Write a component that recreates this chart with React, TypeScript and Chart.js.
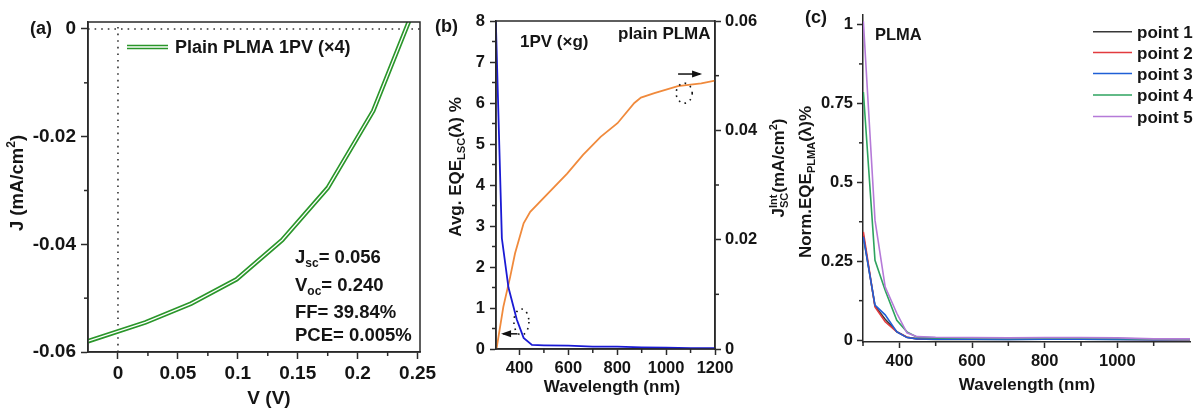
import React, { useEffect, useRef } from 'react';
import { Chart, registerables } from 'chart.js';
Chart.register(...registerables);

const FONT = '"Liberation Sans", Arial, Helvetica, sans-serif';
const INK = '#151515';
const AXIS = '#2a2a2a';

// ---------- Panel (a): J-V curve ----------
const A_V = [-0.025, 0.023, 0.061, 0.099, 0.137, 0.175, 0.213, 0.251];
const A_J = [-0.058, -0.0545, -0.051, -0.0465, -0.0392, -0.0295, -0.0152, 0.006];
const A_X_TICKS = [0, 0.05, 0.1, 0.15, 0.2, 0.25];
const A_X_MINOR = [0.025, 0.075, 0.125, 0.175, 0.225];
const A_Y_TICKS = [0, -0.02, -0.04, -0.06];
const A_Y_MINOR = [-0.01, -0.03, -0.05];
const A_LEGEND = 'Plain PLMA 1PV (×4)';
const A_STATS = [
  { main: 'J', sub: 'sc', val: '= 0.056' },
  { main: 'V', sub: 'oc', val: '= 0.240' },
  { main: 'FF', sub: '', val: '= 39.84%' },
  { main: 'PCE', sub: '', val: '= 0.005%' },
];

// ---------- Panel (b): EQE and integrated Jsc ----------
const B_WL_EQE = [300, 328, 355, 389, 417, 451, 500, 600, 700, 800, 900, 1000, 1100, 1200];
const B_EQE = [8.7, 2.7, 1.5, 0.72, 0.27, 0.1, 0.09, 0.08, 0.06, 0.06, 0.04, 0.03, 0.02, 0.02];
const B_WL_J = [306, 334, 362, 382, 417, 444, 595, 660, 732, 801, 870, 897, 952, 1048, 1144, 1200];
const B_JINT = [0, 0.0077, 0.0132, 0.0175, 0.023, 0.0251, 0.0321, 0.0355, 0.0388, 0.0413, 0.045, 0.046, 0.0468, 0.0481, 0.0486, 0.0491];
const B_X_TICKS = [400, 600, 800, 1000, 1200];
const B_X_MINOR = [500, 700, 900, 1100];
const B_Y_TICKS = [0, 1, 2, 3, 4, 5, 6, 7, 8];
const B_Y_MINOR = [0.5, 1.5, 2.5, 3.5, 4.5, 5.5, 6.5, 7.5];
const B_Y2_TICKS = [0, 0.02, 0.04, 0.06];
const B_Y2_MINOR = [0.01, 0.03, 0.05];

// ---------- Panel (c): normalised EQE at 5 points ----------
const C_WL = [301, 333, 361, 393, 421, 449, 500, 600, 700, 800, 900, 1000, 1100, 1200];
const C_P1 = [0.33, 0.108, 0.066, 0.027, 0.009, 0.004, 0.002, 0.002, 0.002, 0.003, 0.003, 0.002, 0.001, 0.001];
const C_P2 = [0.343, 0.105, 0.058, 0.026, 0.009, 0.004, 0.004, 0.004, 0.003, 0.004, 0.004, 0.003, 0.002, 0.002];
const C_P3 = [0.327, 0.111, 0.08, 0.026, 0.008, 0.004, 0.003, 0.003, 0.002, 0.003, 0.003, 0.002, 0.001, 0.002];
const C_P4 = [0.786, 0.253, 0.158, 0.063, 0.026, 0.009, 0.007, 0.006, 0.005, 0.006, 0.006, 0.005, 0.003, 0.003];
const C_P5 = [1.01, 0.38, 0.169, 0.085, 0.023, 0.011, 0.009, 0.008, 0.007, 0.008, 0.008, 0.007, 0.004, 0.004];
const C_NAMES = ['point 1', 'point 2', 'point 3', 'point 4', 'point 5'];
const C_COLORS = ['#383838', '#e23b3f', '#1f5fd6', '#2ea35f', '#b57ad8'];
const C_X_TICKS = [400, 600, 800, 1000];
const C_X_MINOR = [300, 500, 700, 900, 1100];
const C_Y_TICKS = [0, 0.25, 0.5, 0.75, 1];
const C_Y_MINOR = [0.125, 0.375, 0.625, 0.875];

// ---------- helpers ----------
type Seg = { t: string; sub?: string; sup?: string };
const f = (s: number) => `bold ${s}px ${FONT}`;

function richWidth(ctx: CanvasRenderingContext2D, segs: Seg[], size: number) {
  let w = 0;
  for (const s of segs) {
    ctx.font = f(size);
    w += ctx.measureText(s.t).width;
    ctx.font = f(size * 0.65);
    let sw = 0;
    if (s.sub) sw = Math.max(sw, ctx.measureText(s.sub).width);
    if (s.sup) sw = Math.max(sw, ctx.measureText(s.sup).width);
    w += sw;
  }
  return w;
}

function drawRich(ctx: CanvasRenderingContext2D, segs: Seg[], x: number, y: number, size: number, align: 'left' | 'center', rot = 0) {
  ctx.save();
  ctx.translate(x, y);
  if (rot) ctx.rotate(rot);
  ctx.fillStyle = INK;
  ctx.textBaseline = 'alphabetic';
  ctx.textAlign = 'left';
  const base = size * 0.36;
  const w = richWidth(ctx, segs, size);
  let cx = align === 'center' ? -w / 2 : 0;
  for (const s of segs) {
    ctx.font = f(size);
    ctx.fillText(s.t, cx, base);
    cx += ctx.measureText(s.t).width;
    ctx.font = f(size * 0.65);
    let sw = 0;
    if (s.sub) {
      ctx.fillText(s.sub, cx, base + size * 0.22);
      sw = Math.max(sw, ctx.measureText(s.sub).width);
    }
    if (s.sup) {
      ctx.fillText(s.sup, cx, base - size * 0.42);
      sw = Math.max(sw, ctx.measureText(s.sup).width);
    }
    cx += sw;
  }
  ctx.restore();
}

function drawMinor(chart: any, id: string, values: number[], len: number) {
  const s = chart.scales[id];
  const ca = chart.chartArea;
  const ctx = chart.ctx;
  ctx.save();
  ctx.strokeStyle = AXIS;
  ctx.lineWidth = 1.5;
  for (const v of values) {
    const p = s.getPixelForValue(v);
    ctx.beginPath();
    if (s.position === 'bottom') {
      ctx.moveTo(p, ca.bottom);
      ctx.lineTo(p, ca.bottom + len);
    } else if (s.position === 'left') {
      ctx.moveTo(ca.left - len, p);
      ctx.lineTo(ca.left, p);
    } else {
      ctx.moveTo(ca.right, p);
      ctx.lineTo(ca.right + len, p);
    }
    ctx.stroke();
  }
  ctx.restore();
}

function frame(chart: any) {
  const ca = chart.chartArea;
  const ctx = chart.ctx;
  ctx.save();
  ctx.strokeStyle = AXIS;
  ctx.lineWidth = 1.5;
  ctx.strokeRect(ca.left, ca.top, ca.right - ca.left, ca.bottom - ca.top);
  ctx.restore();
}

function arrow(ctx: CanvasRenderingContext2D, x1: number, y1: number, x2: number, y2: number) {
  ctx.save();
  ctx.strokeStyle = '#111';
  ctx.fillStyle = '#111';
  ctx.lineWidth = 1.5;
  ctx.beginPath();
  ctx.moveTo(x1, y1);
  ctx.lineTo(x2, y2);
  ctx.stroke();
  const dir = Math.sign(x2 - x1);
  ctx.beginPath();
  ctx.moveTo(x2 + dir * 2, y2);
  ctx.lineTo(x2 - dir * 8, y2 - 3.5);
  ctx.lineTo(x2 - dir * 8, y2 + 3.5);
  ctx.closePath();
  ctx.fill();
  ctx.restore();
}

function dottedEllipse(ctx: CanvasRenderingContext2D, cx: number, cy: number, rx: number, ry: number) {
  ctx.save();
  ctx.strokeStyle = '#111';
  ctx.lineWidth = 1.6;
  ctx.setLineDash([1.6, 4.5]);
  ctx.beginPath();
  ctx.ellipse(cx, cy, rx, ry, 0, 0, Math.PI * 2);
  ctx.stroke();
  ctx.restore();
}

const fmt = (v: number) => String(Math.round(v * 1000) / 1000);

function scale(o: { pos: string; min: number; max: number; ticks: number[]; fit: number; size: number; pad: number; tl: number; fmt?: (v: number) => string }) {
  return {
    type: 'linear',
    position: o.pos,
    min: o.min,
    max: o.max,
    afterBuildTicks: (s: any) => {
      s.ticks = o.ticks.map((v) => ({ value: v }));
    },
    afterFit: (s: any) => {
      if (o.pos === 'bottom') s.height = o.fit;
      else s.width = o.fit;
    },
    ticks: {
      autoSkip: false,
      maxRotation: 0,
      minRotation: 0,
      padding: o.pad,
      color: INK,
      font: { family: FONT, weight: 'bold', size: o.size },
      callback: (v: any) => (o.fmt || fmt)(Number(v)),
    },
    grid: { drawOnChartArea: false, drawTicks: true, tickLength: o.tl, tickWidth: 1.5, tickColor: AXIS },
    border: { display: true, color: AXIS, width: 1.5 },
    title: { display: false },
  };
}

const pts = (xs: number[], ys: number[]) => xs.map((x, i) => ({ x, y: ys[i] }));

const common = (padding: any) => ({
  animation: false,
  responsive: false,
  devicePixelRatio: 1,
  events: [],
  layout: { padding, autoPadding: false },
  plugins: { legend: { display: false }, tooltip: { enabled: false } },
});

function cfgA(): any {
  const data = pts(A_V, A_J);
  return {
    type: 'scatter',
    data: {
      datasets: [
        { data, showLine: true, borderColor: '#ffffff', borderWidth: 1.3, pointRadius: 0, order: 0 },
        { data, showLine: true, borderColor: '#2a962a', borderWidth: 4.6, pointRadius: 0, order: 1 },
        { data: [{ x: -0.025, y: 0 }, { x: 0.252, y: 0 }], showLine: true, borderColor: '#333', borderWidth: 1.6, borderDash: [1.6, 5], pointRadius: 0, order: 2 },
        { data: [{ x: 0, y: -0.06 }, { x: 0, y: 0.0013 }], showLine: true, borderColor: '#333', borderWidth: 1.6, borderDash: [1.6, 5], pointRadius: 0, order: 2 },
      ],
    },
    options: {
      ...common({ left: 0, right: 775, top: 22, bottom: 0 }),
      scales: {
        x: scale({ pos: 'bottom', min: -0.025, max: 0.252, ticks: A_X_TICKS, fit: 56, size: 19, pad: 3, tl: 7 }),
        y: scale({ pos: 'left', min: -0.06, max: 0.0013, ticks: A_Y_TICKS, fit: 88, size: 19, pad: 5, tl: 7 }),
      },
    },
    plugins: [
      {
        id: 'decorA',
        afterDraw: (chart: any) => {
          const ctx = chart.ctx;
          frame(chart);
          drawMinor(chart, 'x', A_X_MINOR, 4);
          drawMinor(chart, 'y', A_Y_MINOR, 4);
          drawRich(ctx, [{ t: '(a)' }], 30, 28, 18, 'left');
          drawRich(ctx, [{ t: 'J (mA/cm', sup: '2' }, { t: ')' }], 16, 183, 18.5, 'center', -Math.PI / 2);
          drawRich(ctx, [{ t: 'V (V)' }], 269, 397, 19, 'center');
          // legend
          ctx.save();
          ctx.beginPath();
          ctx.moveTo(127, 47);
          ctx.lineTo(168, 47);
          ctx.strokeStyle = '#2a962a';
          ctx.lineWidth = 4.6;
          ctx.stroke();
          ctx.strokeStyle = '#fff';
          ctx.lineWidth = 1.3;
          ctx.stroke();
          ctx.restore();
          drawRich(ctx, [{ t: A_LEGEND }], 175, 47, 18, 'left');
          const ys = [256, 284, 311, 334];
          A_STATS.forEach((s, i) => {
            const segs: Seg[] = s.sub ? [{ t: s.main, sub: s.sub }, { t: s.val }] : [{ t: s.main + s.val }];
            drawRich(ctx, segs, 295, ys[i], 18.5, 'left');
          });
        },
      },
    ],
  };
}

function cfgB(): any {
  return {
    type: 'scatter',
    data: {
      datasets: [
        { data: pts(B_WL_EQE, B_EQE), yAxisID: 'y', showLine: true, borderColor: '#1a1ad4', borderWidth: 1.8, pointRadius: 0 },
        { data: pts(B_WL_J, B_JINT), yAxisID: 'y2', showLine: true, borderColor: '#f08a3c', borderWidth: 1.8, pointRadius: 0 },
      ],
    },
    options: {
      ...common({ left: 436, right: 420, top: 21, bottom: 0 }),
      scales: {
        x: scale({ pos: 'bottom', min: 304, max: 1200, ticks: B_X_TICKS, fit: 59, size: 16.5, pad: 4, tl: 6 }),
        y: scale({ pos: 'left', min: 0, max: 8, ticks: B_Y_TICKS, fit: 60, size: 16.5, pad: 5, tl: 6 }),
        y2: scale({ pos: 'right', min: 0, max: 0.06, ticks: B_Y2_TICKS, fit: 60, size: 16.5, pad: 4, tl: 6 }),
      },
    },
    plugins: [
      {
        id: 'decorB',
        afterDraw: (chart: any) => {
          const ctx = chart.ctx;
          const sx = chart.scales.x;
          const sy = chart.scales.y;
          const sy2 = chart.scales.y2;
          frame(chart);
          drawMinor(chart, 'x', B_X_MINOR, 4);
          drawMinor(chart, 'y', B_Y_MINOR, 4);
          drawMinor(chart, 'y2', B_Y2_MINOR, 4);
          drawRich(ctx, [{ t: '(b)' }], 435, 26, 18, 'left');
          drawRich(ctx, [{ t: '1PV (×g)' }], 520, 41, 17, 'left');
          drawRich(ctx, [{ t: 'plain PLMA' }], 618, 33, 17, 'left');
          drawRich(ctx, [{ t: 'Avg. EQE', sub: 'LSC' }, { t: '(λ) %' }], 455, 167, 17, 'center', -Math.PI / 2);
          drawRich(ctx, [{ t: 'J', sup: 'Int', sub: 'SC' }, { t: '(mA/cm', sup: '2' }, { t: ')' }], 778, 168, 17, 'center', -Math.PI / 2);
          drawRich(ctx, [{ t: 'Wavelength (nm)' }], 612, 386, 17, 'center');
          // annotations: dotted ellipses + arrows
          dottedEllipse(ctx, sx.getPixelForValue(408), sy.getPixelForValue(0.66), 7.5, 13);
          arrow(ctx, sx.getPixelForValue(392), sy.getPixelForValue(0.37), sx.getPixelForValue(333), sy.getPixelForValue(0.37));
          dottedEllipse(ctx, sx.getPixelForValue(1074), sy2.getPixelForValue(0.0468), 8, 10);
          arrow(ctx, sx.getPixelForValue(1049), sy2.getPixelForValue(0.0503), sx.getPixelForValue(1139), sy2.getPixelForValue(0.0503));
        },
      },
    ],
  };
}

function cfgC(): any {
  const series = [C_P1, C_P2, C_P3, C_P4, C_P5];
  return {
    type: 'scatter',
    data: {
      datasets: series.map((s, i) => ({
        label: C_NAMES[i],
        data: pts(C_WL, s),
        showLine: true,
        borderColor: C_COLORS[i],
        borderWidth: 1.6,
        pointRadius: 0,
        order: 5 - i,
      })),
    },
    options: {
      ...common({ left: 793, right: 5, top: 15, bottom: 0 }),
      scales: {
        x: scale({ pos: 'bottom', min: 300, max: 1200, ticks: C_X_TICKS, fit: 66, size: 16.5, pad: 4, tl: 6 }),
        y: scale({ pos: 'left', min: -0.006, max: 1.03, ticks: C_Y_TICKS, fit: 70, size: 16.5, pad: 4, tl: 6 }),
      },
    },
    plugins: [
      {
        id: 'decorC',
        afterDraw: (chart: any) => {
          const ctx = chart.ctx;
          drawMinor(chart, 'x', C_X_MINOR, 4);
          drawMinor(chart, 'y', C_Y_MINOR, 4);
          drawRich(ctx, [{ t: '(c)' }], 805, 17, 18, 'left');
          drawRich(ctx, [{ t: 'PLMA' }], 875, 34, 16.5, 'left');
          drawRich(ctx, [{ t: 'Norm.EQE', sub: 'PLMA' }, { t: '(λ)%' }], 805, 182, 17, 'center', -Math.PI / 2);
          drawRich(ctx, [{ t: 'Wavelength (nm)' }], 1027, 384, 17, 'center');
          const rows = [31.7, 52.5, 73.5, 95, 116.5];
          C_NAMES.forEach((n, i) => {
            ctx.save();
            ctx.strokeStyle = C_COLORS[i];
            ctx.lineWidth = 1.6;
            ctx.beginPath();
            ctx.moveTo(1093, rows[i]);
            ctx.lineTo(1132, rows[i]);
            ctx.stroke();
            ctx.restore();
            drawRich(ctx, [{ t: n }], 1137, rows[i], 17, 'left');
          });
        },
      },
    ],
  };
}

export default function App() {
  const ra = useRef<HTMLCanvasElement>(null);
  const rb = useRef<HTMLCanvasElement>(null);
  const rc = useRef<HTMLCanvasElement>(null);
  useEffect(() => {
    const charts = [new Chart(ra.current!, cfgA()), new Chart(rb.current!, cfgB()), new Chart(rc.current!, cfgC())];
    return () => charts.forEach((c) => c.destroy());
  }, []);
  const st: React.CSSProperties = { position: 'absolute', left: 0, top: 0, width: 1195, height: 408 };
  return (
    <div style={{ position: 'fixed', left: 0, top: 0, width: 1195, height: 408, background: '#fff' }}>
      <canvas ref={ra} width={1195} height={408} style={st} />
      <canvas ref={rb} width={1195} height={408} style={st} />
      <canvas ref={rc} width={1195} height={408} style={st} />
    </div>
  );
}
